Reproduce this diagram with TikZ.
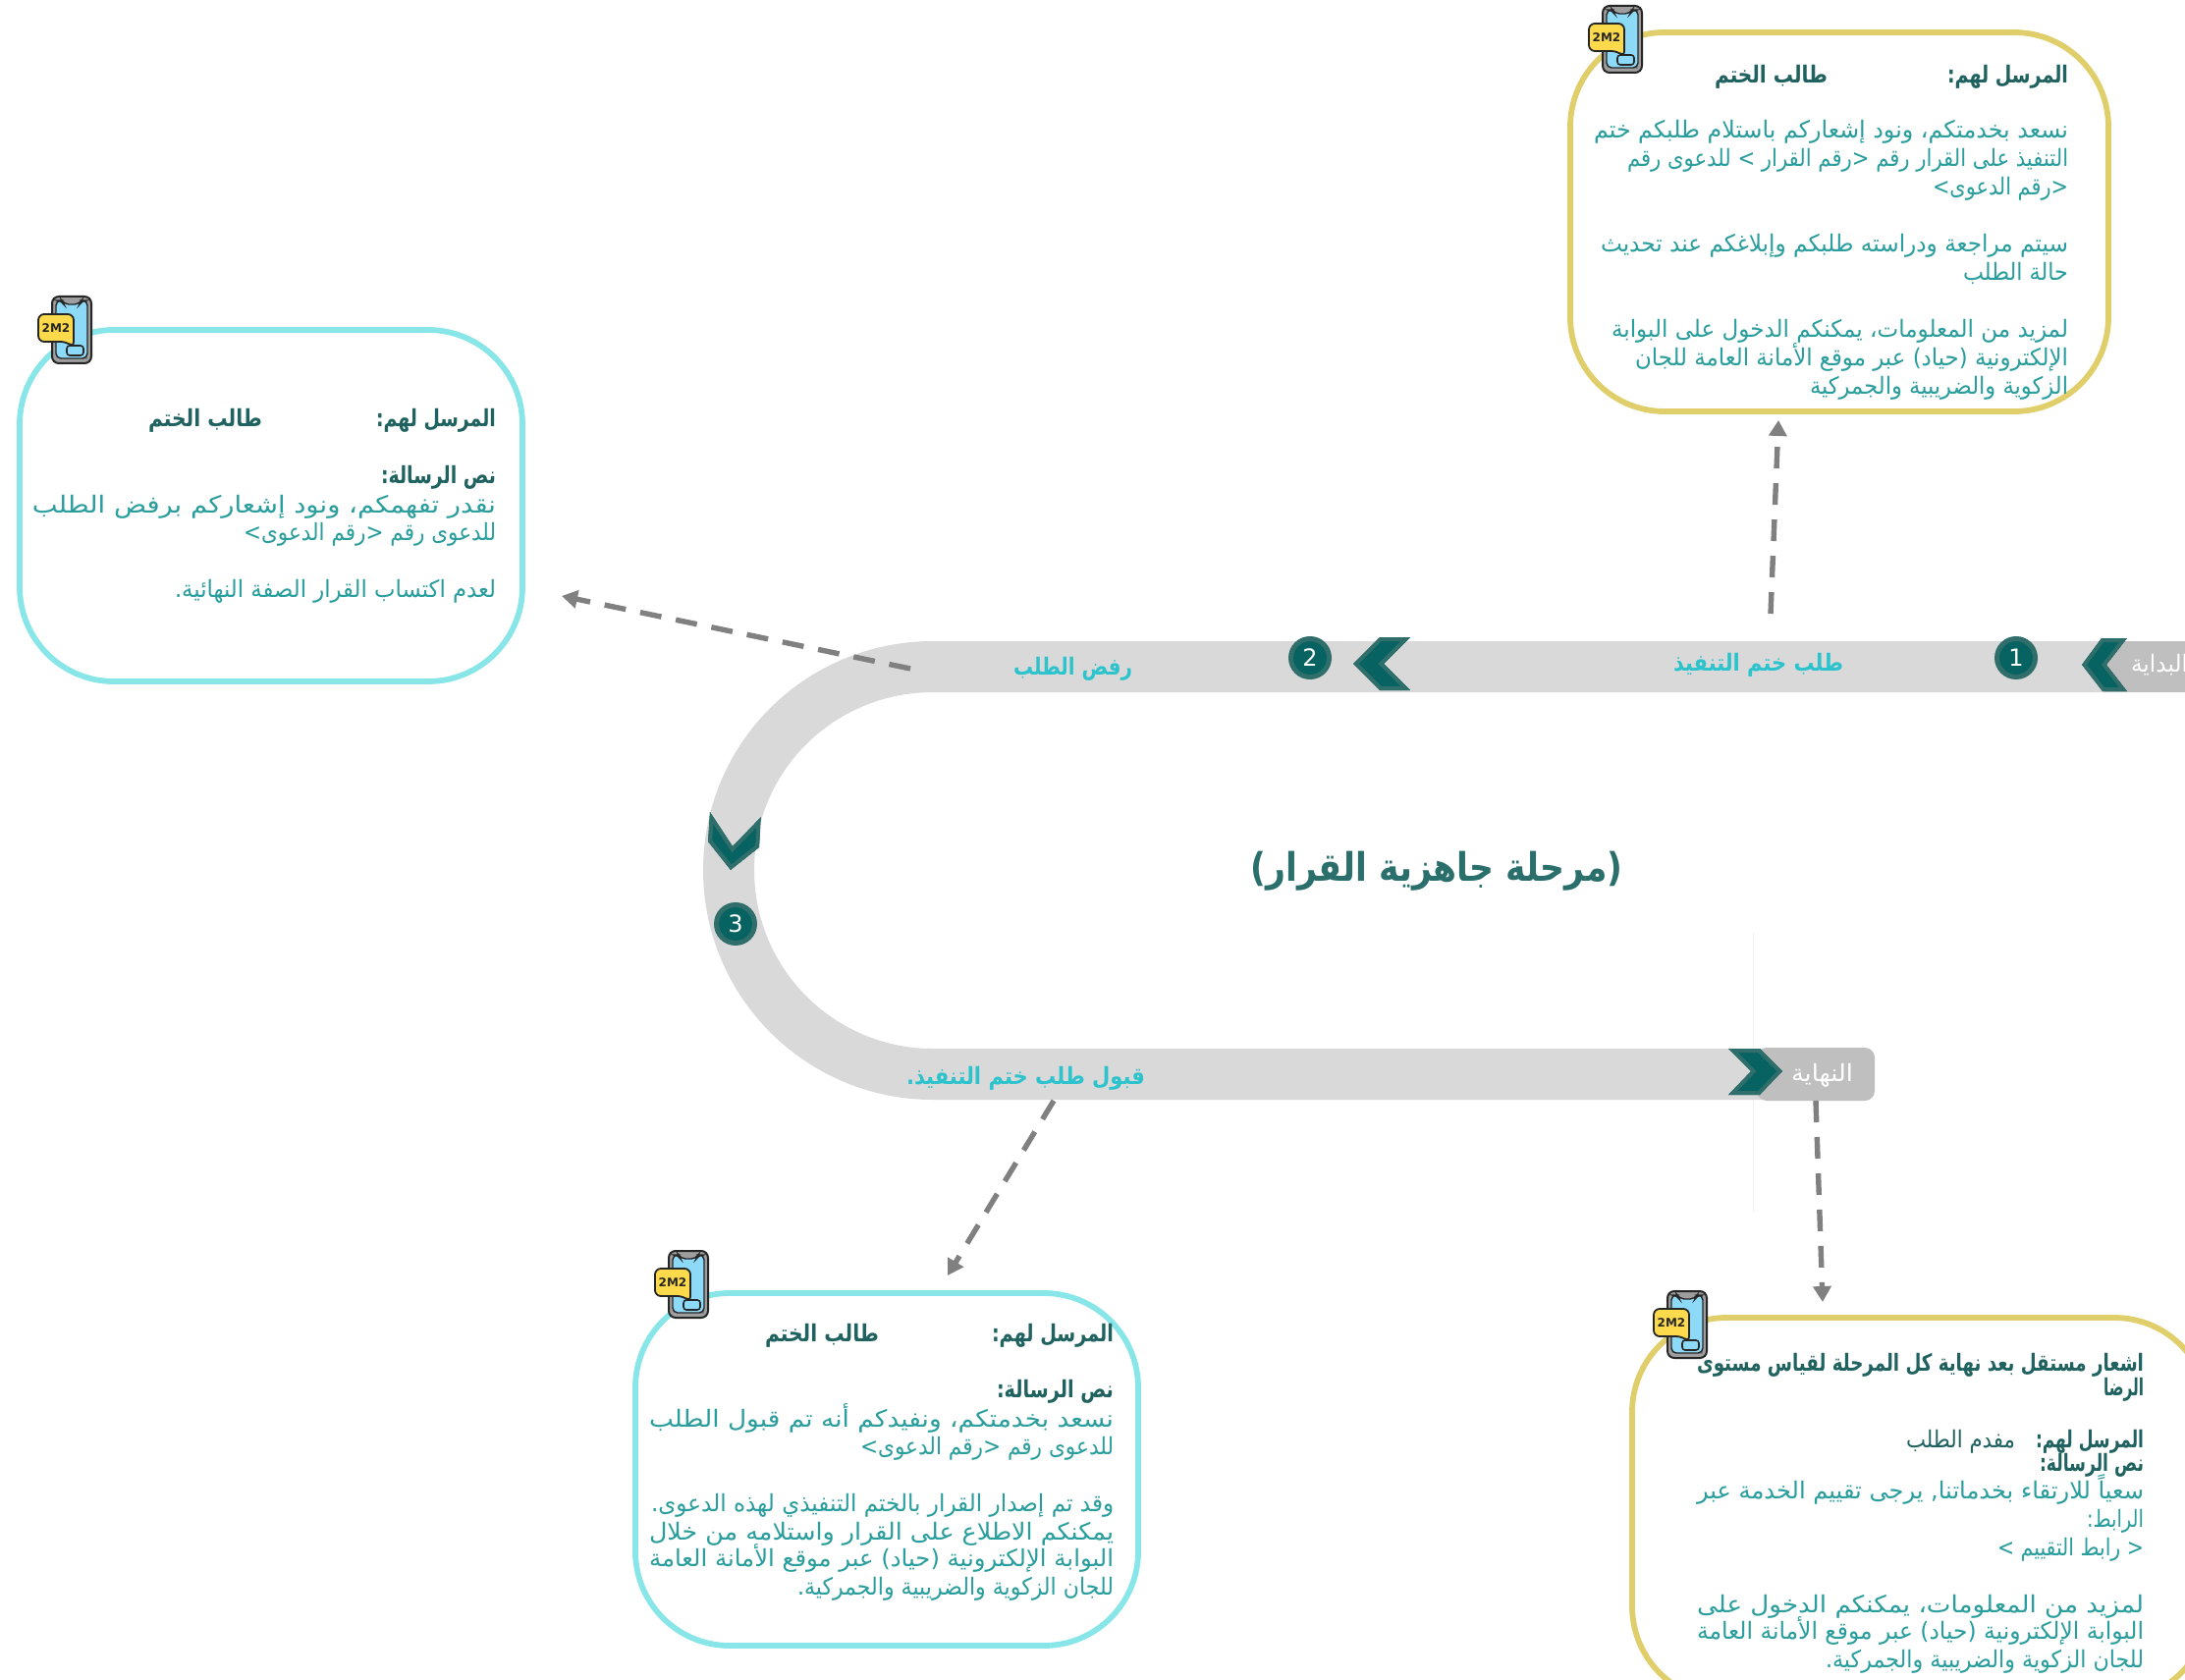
\documentclass[tikz,border=0pt]{standalone}
\usepackage{fontspec}
\usepackage{graphicx}
\usetikzlibrary{arrows.meta}
\setmainfont{DejaVu Sans}
\newfontfamily\arabicfont[Script=Arabic]{DejaVu Sans}
\TeXXeTstate=1
\definecolor{goldc}{HTML}{E0CE6A}
\definecolor{cyanc}{HTML}{88E6E8}
\definecolor{headc}{HTML}{1F6260}
\definecolor{bodyc}{HTML}{2A9D9D}
\definecolor{titlec}{HTML}{2A6F6B}
\definecolor{bandlabel}{HTML}{2CC3CC}
\definecolor{bandc}{HTML}{D9D9D9}
\definecolor{boxc}{HTML}{BFBFBF}
\definecolor{chevdark}{HTML}{066361}
\definecolor{chevlight}{HTML}{2F6E6B}
\definecolor{arrowc}{HTML}{808080}
\newsavebox\arbox
% #1 target width in px, #2 font switches, #3 text
\newcommand{\arfit}[3]{%
  \sbox\arbox{#2\arabicfont #3}%
  \pgfmathsetmacro\arratio{#1*0.5/(\the\wd\arbox)}%
  \scalebox{\arratio}[1]{\usebox\arbox}}
% #1 name, #2 x, #3 y, #4 width, #5 style, #6 text
\newcommand{\arline}[6]{%
  \node[txtline,#5] (#1) at (#2,#3) {\arfit{#4}{\fontsize{12}{14}\selectfont\csname ar@#5\endcsname}{#6}};}
\makeatletter
\expandafter\let\csname ar@headtxt\endcsname\bfseries
\expandafter\let\csname ar@bodytxt\endcsname\relax
\expandafter\let\csname ar@plainhead\endcsname\relax
\expandafter\let\csname ar@bandtxt\endcsname\bfseries
\expandafter\let\csname ar@whitetxt\endcsname\relax
\makeatother
\newcommand{\chev}[1]{\begin{scope}\clip #1 -- cycle; \fill[chevdark] #1 -- cycle; \draw[chevlight,line width=4pt] #1 -- cycle;\end{scope}}
\tikzset{
  x=0.5pt,y=-0.5pt,
  txtline/.style={anchor=base east,inner sep=0pt,outer sep=0pt,yshift=-0.75pt},
  headtxt/.style={text=headc},
  bodytxt/.style={text=bodyc},
  plainhead/.style={text=headc},
  bandtxt/.style={text=bandlabel},
  whitetxt/.style={text=white},
  cardbox/.style={rectangle,rounded corners=48pt,line width=2.9pt,inner sep=0pt},
  numdot/.style={circle,fill=chevdark,draw=chevlight,line width=2.5pt,minimum size=19.5pt,inner sep=0pt,text=white,font=\fontsize{12}{14}\selectfont},
  dasharrow/.style={draw=arrowc,line width=2.7pt,dash pattern=on 11pt off 7.5pt,-{Triangle[length=8pt,width=9pt]}},
  phoneicon/.pic={
    \draw[draw=black!85,fill=black!38,line width=1pt,rounded corners=3.5pt] (0,0) rectangle (40,68);
    \fill[fill=black!50] (32,4) rectangle (36,64);
    \draw[draw=black!85,fill=cyan!45!white,line width=.7pt,rounded corners=2.5pt] (4,4) -- (10,4) -- (12,8) -- (28,8) -- (30,4) -- (36,4) -- (36,63) -- (4,63) -- cycle;
    \draw[draw=black!85,line width=.8pt,rounded corners=1.5pt] (15,50) rectangle (32,60);
    \draw[draw=black!85,fill=yellow!65!orange!70!white,line width=.9pt,rounded corners=3pt] (-14,18) -- (22,18) -- (22,52) -- (15,46) -- (-14,46) -- cycle;
    \node[inner sep=0pt,font=\fontsize{6}{7}\selectfont\bfseries,text=black!85] (-sms) at (4,32) {2M2};
  }
}
\begin{document}
\begin{tikzpicture}
\useasboundingbox (0,0) rectangle (2225,1711);
\clip (0,0) rectangle (2225,1711);
\fill[white] (0,0) rectangle (2225,1711);
% faint guide
\draw[black!6,line width=.4pt] (1785,950) -- (1785,1235);
% cards
\node[cardbox,draw=goldc,minimum width=274pt,minimum height=193pt] (cardA) at (1873,226) {};
\node[cardbox,draw=cyanc,minimum width=256pt,minimum height=179pt] (cardB) at (276,515) {};
\node[cardbox,draw=cyanc,minimum width=256pt,minimum height=179.5pt] (cardC) at (903,1496.5) {};
\node[cardbox,draw=goldc,minimum width=293.5pt,minimum height=195pt] (cardD) at (1955.5,1537) {};
% track
\draw[bandc,line width=26pt] (2225,679) -- (950,679) .. controls (835,679) and (742,771) .. (742,886) .. controls (742,1001) and (835,1094) .. (950,1094) -- (1795,1094);
\fill[boxc] (2143,653) rectangle (2225,705);
\node[rectangle,fill=boxc,rounded corners=5pt,minimum width=60pt,minimum height=27pt,inner sep=0pt] (endbox) at (1849,1094) {};
% chevrons
\chev{(2166,650) -- (2140,650) -- (2120,677) -- (2141,704) -- (2166,704) -- (2145,677)}
\chev{(1436,649) -- (1405,649) -- (1378,676) -- (1405,703) -- (1436,703) -- (1409,676)}
\chev{(723,827) -- (721,857) -- (744,886) -- (773,863) -- (775,832) -- (746,862)}
\chev{(1760,1068) -- (1792,1068) -- (1815,1091) -- (1792,1115) -- (1760,1115) -- (1783,1091)}
% numbers
\node[numdot] (n1) at (2053,670) {1};
\node[numdot] (n2) at (1334,670) {2};
\node[numdot] (n3) at (749,941) {3};
% band labels
\arline{lb1}{1877}{682}{173}{bandtxt}{\beginR طلب ختم التنفيذ\endR}
\arline{lb2}{1153}{686}{121}{bandtxt}{\beginR رفض الطلب\endR}
\arline{lb3}{1166}{1103}{243}{bandtxt}{\beginR قبول طلب ختم التنفيذ.\endR}
\arline{lb4}{2228}{683}{58}{whitetxt}{\beginR البداية\endR}
\arline{lb5}{1887}{1100}{63}{whitetxt}{\beginR النهاية\endR}
% title
\node[anchor=base,inner sep=0pt,text=titlec] (title) at (1463,897) {\arfit{379}{\fontsize{20}{24}\selectfont\bfseries}{\beginR (مرحلة جاهزية القرار)\endR}};
% arrows
\coordinate (a1s) at (1803,625); \coordinate (a1e) at (1811,428);
\coordinate (a2s) at (927,681);  \coordinate (a2e) at (572,607);
\coordinate (a3s) at (1073,1121); \coordinate (a3e) at (965,1299);
\coordinate (a4s) at (1849,1121); \coordinate (a4e) at (1856,1326);
\draw[dasharrow] (a1s) -- (a1e);
\draw[dasharrow] (a2s) -- (a2e);
\draw[dasharrow] (a3s) -- (a3e);
\draw[dasharrow] (a4s) -- (a4e);
% card A text
\arline{a1}{2106}{83}{123}{headtxt}{\beginR المرسل لهم:\endR}
\arline{a2}{1861}{83}{115}{headtxt}{\beginR طالب الختم\endR}
\arline{a3}{2106}{139}{483}{bodytxt}{\beginR نسعد بخدمتكم، ونود إشعاركم باستلام طلبكم ختم\endR}
\arline{a4}{2106}{168}{449}{bodytxt}{\beginR التنفيذ على القرار رقم <رقم القرار > للدعوى رقم\endR}
\arline{a5}{2106}{197}{138}{bodytxt}{\beginR <رقم الدعوى>\endR}
\arline{a6}{2106}{255}{476}{bodytxt}{\beginR سيتم مراجعة ودراسته طلبكم وإبلاغكم عند تحديث\endR}
\arline{a7}{2106}{284}{107}{bodytxt}{\beginR حالة الطلب\endR}
\arline{a8}{2106}{342}{465}{bodytxt}{\beginR لمزيد من المعلومات، يمكنكم الدخول على البوابة\endR}
\arline{a9}{2106}{371}{441}{bodytxt}{\beginR الإلكترونية (حياد) عبر موقع الأمانة العامة للجان\endR}
\arline{a10}{2106}{400}{263}{bodytxt}{\beginR الزكوية والضريبية والجمركية\endR}
% card B text
\arline{b1}{505}{433}{122}{headtxt}{\beginR المرسل لهم:\endR}
\arline{b2}{267}{433}{116}{headtxt}{\beginR طالب الختم\endR}
\arline{b3}{505}{491}{117}{headtxt}{\beginR نص الرسالة:\endR}
\arline{b4}{505}{521}{472}{bodytxt}{\beginR نقدر تفهمكم، ونود إشعاركم برفض الطلب\endR}
\arline{b5}{505}{549}{257}{bodytxt}{\beginR للدعوى رقم <رقم الدعوى>\endR}
\arline{b6}{505}{607}{327}{bodytxt}{\beginR لعدم اكتساب القرار الصفة النهائية.\endR}
% card C text
\arline{c1}{1134}{1365}{124}{headtxt}{\beginR المرسل لهم:\endR}
\arline{c2}{895}{1365}{116}{headtxt}{\beginR طالب الختم\endR}
\arline{c3}{1134}{1422}{119}{headtxt}{\beginR نص الرسالة:\endR}
\arline{c4}{1134}{1452}{473}{bodytxt}{\beginR نسعد بخدمتكم، ونفيدكم أنه تم قبول الطلب\endR}
\arline{c5}{1134}{1480}{258}{bodytxt}{\beginR للدعوى رقم <رقم الدعوى>\endR}
\arline{c6}{1134}{1538}{471}{bodytxt}{\beginR وقد تم إصدار القرار بالختم التنفيذي لهذه الدعوى.\endR}
\arline{c7}{1134}{1567}{473}{bodytxt}{\beginR يمكنكم الاطلاع على القرار واستلامه من خلال\endR}
\arline{c8}{1134}{1594}{473}{bodytxt}{\beginR البوابة الإلكترونية (حياد) عبر موقع الأمانة العامة\endR}
\arline{c9}{1134}{1623}{322}{bodytxt}{\beginR للجان الزكوية والضريبية والجمركية.\endR}
% card D text
\arline{d1}{2183}{1395}{455}{headtxt}{\beginR اشعار مستقل بعد نهاية كل المرحلة لقياس مستوى\endR}
\arline{d2}{2183}{1420}{41}{headtxt}{\beginR الرضا\endR}
\arline{d3}{2183}{1473}{110}{headtxt}{\beginR المرسل لهم:\endR}
\arline{d4}{2052}{1473}{111}{plainhead}{\beginR مفدم الطلب\endR}
\arline{d5}{2183}{1497}{106}{headtxt}{\beginR نص الرسالة:\endR}
\arline{d6}{2183}{1525}{455}{bodytxt}{\beginR سعياً للارتقاء بخدماتنا, يرجى تقييم الخدمة عبر\endR}
\arline{d7}{2183}{1554}{58}{bodytxt}{\beginR الرابط:\endR}
\arline{d8}{2183}{1583}{149}{bodytxt}{\beginR < رابط التقييم >\endR}
\arline{d9}{2183}{1641}{455}{bodytxt}{\beginR لمزيد من المعلومات، يمكنكم الدخول على\endR}
\arline{d10}{2183}{1668}{455}{bodytxt}{\beginR البوابة الإلكترونية (حياد) عبر موقع الأمانة العامة\endR}
\arline{d11}{2183}{1697}{324}{bodytxt}{\beginR للجان الزكوية والضريبية والجمركية.\endR}
% icons
\pic (iconA) at (1632,6) {phoneicon};
\pic (iconB) at (53,302) {phoneicon};
\pic (iconC) at (681,1274) {phoneicon};
\pic (iconD) at (1698,1315) {phoneicon};
\end{tikzpicture}
\end{document}
